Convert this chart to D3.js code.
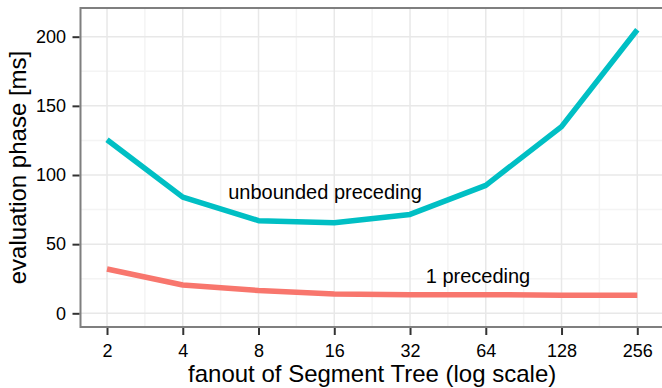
<!DOCTYPE html>
<html>
<head>
<meta charset="utf-8">
<script src="https://cdn.jsdelivr.net/npm/d3@7"></script>
<style>
  html, body { margin: 0; padding: 0; background: #fff; }
  svg { display: block; font-family: "Liberation Sans", Arial, Helvetica, sans-serif; }
</style>
</head>
<body>
<svg id="chart" width="662" height="388"></svg>
<script>
// Segment tree fanout vs. evaluation phase time
const fanout = [2, 4, 8, 16, 32, 64, 128, 256];
const unboundedPreceding = [125.5, 84, 67, 65.5, 71.5, 92.5, 135, 205];
const onePreceding = [32, 20.5, 16.5, 14, 13.5, 13.5, 13, 13];
const yTicks = [0, 50, 100, 150, 200];
const yMinorTicks = [25, 75, 125, 175];
const seriesNames = ["unbounded preceding", "1 preceding"];
const seriesColors = ["#00BFC4", "#F8766D"];
const labelX = [14.7, 59.6];
const labelY = [88, 27];

const W = 662, H = 388;
const panel = { left: 80.5, right: 663.8, top: 8, bottom: 327 };

const svg = d3.select("#chart");

const x = d3.scaleLog().base(2)
  .domain([2 / Math.pow(2, 0.35), 256 * Math.pow(2, 0.35)])
  .range([panel.left, panel.right]);
const y = d3.scaleLinear()
  .domain([-9.9, 220.75])
  .range([panel.bottom, panel.top]);

// minor x grid at log midpoints between major ticks
const xMinor = d3.pairs(fanout).map(([a, b]) => Math.sqrt(a * b));

const grid = svg.append("g");
grid.selectAll("line.ymin").data(yMinorTicks).join("line")
  .attr("x1", panel.left).attr("x2", panel.right)
  .attr("y1", d => y(d)).attr("y2", d => y(d))
  .attr("stroke", "#f4f4f4").attr("stroke-width", 1.5);
grid.selectAll("line.xmin").data(xMinor).join("line")
  .attr("y1", panel.top).attr("y2", panel.bottom)
  .attr("x1", d => x(d)).attr("x2", d => x(d))
  .attr("stroke", "#f4f4f4").attr("stroke-width", 1.5);
grid.selectAll("line.ymaj").data(yTicks).join("line")
  .attr("x1", panel.left).attr("x2", panel.right)
  .attr("y1", d => y(d)).attr("y2", d => y(d))
  .attr("stroke", "#e8e8e8").attr("stroke-width", 1.5);
grid.selectAll("line.xmaj").data(fanout).join("line")
  .attr("y1", panel.top).attr("y2", panel.bottom)
  .attr("x1", d => x(d)).attr("x2", d => x(d))
  .attr("stroke", "#e8e8e8").attr("stroke-width", 1.5);

// series lines
const series = [unboundedPreceding, onePreceding];
const line = d3.line()
  .x((d, i) => x(fanout[i]))
  .y(d => y(d));
series.forEach((vals, k) => {
  svg.append("path")
    .attr("d", line(vals))
    .attr("fill", "none")
    .attr("stroke", seriesColors[k])
    .attr("stroke-width", 5.5)
    .attr("stroke-linejoin", "round")
    .attr("stroke-linecap", "butt");
});

// direct labels
seriesNames.forEach((name, k) => {
  svg.append("text")
    .attr("x", x(labelX[k]))
    .attr("y", y(labelY[k]))
    .attr("dy", "0.35em")
    .attr("text-anchor", "middle")
    .attr("font-size", 20)
    .attr("fill", "#000")
    .text(name);
});

// panel border
svg.append("rect")
  .attr("x", panel.left).attr("y", panel.top)
  .attr("width", panel.right - panel.left)
  .attr("height", panel.bottom - panel.top)
  .attr("fill", "none")
  .attr("stroke", "#7f7f7f")
  .attr("stroke-width", 2);

// axes
const yAxis = d3.axisLeft(y).tickValues(yTicks).tickSize(7).tickPadding(6.5);
const gy = svg.append("g").attr("transform", `translate(${panel.left - 1},0)`).call(yAxis);
const xAxis = d3.axisBottom(x).tickValues(fanout).tickFormat(d3.format("d")).tickSize(7).tickPadding(9.5);
const gx = svg.append("g").attr("transform", `translate(0,${panel.bottom + 1})`).call(xAxis);
[gx, gy].forEach(g => {
  g.select(".domain").remove();
  g.selectAll(".tick line").attr("stroke", "#333").attr("stroke-width", 2);
  g.selectAll(".tick text").attr("fill", "#000").attr("font-size", 18)
    .attr("font-family", "Liberation Sans, Arial, Helvetica, sans-serif");
});

// axis titles
svg.append("text")
  .attr("x", (panel.left + panel.right) / 2)
  .attr("y", 381.5)
  .attr("text-anchor", "middle")
  .attr("font-size", 24)
  .attr("fill", "#000")
  .text("fanout of Segment Tree (log scale)");
svg.append("text")
  .attr("transform", `translate(26,${(panel.top + panel.bottom) / 2}) rotate(-90)`)
  .attr("text-anchor", "middle")
  .attr("font-size", 24)
  .attr("fill", "#000")
  .text("evaluation phase [ms]");
</script>
</body>
</html>
